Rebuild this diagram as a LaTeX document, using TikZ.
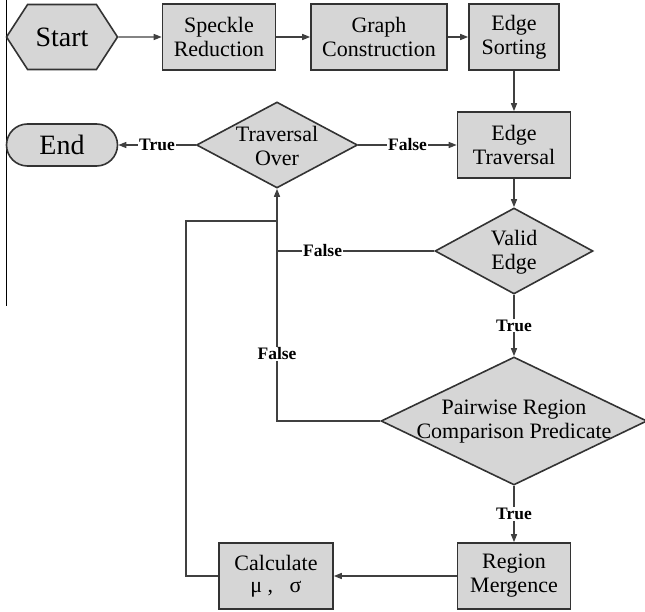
\documentclass[tikz,border=0pt]{standalone}
\usepackage{fontspec}
\setmainfont{Liberation Serif}
\usetikzlibrary{shapes.geometric,shapes.misc,shapes.symbols,arrows.meta}
\begin{document}
\begin{tikzpicture}[x=1pt,y=-1pt,
  box/.style={draw=black!80,line width=1.6pt,fill=black!16,rectangle,inner sep=0pt,
    minimum width=113pt,minimum height=66pt,align=center,font=\fontsize{22}{24}\selectfont},
  dia/.style={draw=black!80,line width=1.6pt,fill=black!16,diamond,inner sep=0pt},
  dtext/.style={align=center,font=\fontsize{22}{24}\selectfont,inner sep=0pt},
  arr/.style={draw=black!75,line width=1.3pt,-{Triangle[length=8pt,width=6pt]}},
  ln/.style={draw=black!75,line width=1.3pt},
  lab/.style={fill=white,inner sep=1pt,font=\bfseries\fontsize{17.5}{19}\selectfont}]
\useasboundingbox (0,0) rectangle (645,612);
\draw[line width=0.9pt,black] (6,0) -- (6,306);
% nodes
\node[draw=black!80,line width=1.6pt,fill=black!16,signal,signal to=west and east,signal pointer angle=114,
  minimum width=111pt,minimum height=65pt,inner sep=0pt,font=\fontsize{28}{30}\selectfont] (start) at (62,37) {Start};
\node[box] (speckle) at (219,37) {Speckle\\Reduction};
\node[box,minimum width=136pt] (graph) at (379,37) {Graph\\Construction};
\node[box,minimum width=90pt] (sort) at (514,37) {Edge\\Sorting};
\node[box] (trav) at (514,145) {Edge\\Traversal};
\node[dia,minimum width=161pt,minimum height=86pt] (tover) at (277,145) {};
\node[dtext] (toverT) at (277,146) {Traversal\\Over};
\node[draw=black!80,line width=1.6pt,fill=black!16,rounded rectangle,minimum width=111pt,minimum height=42pt,
  inner sep=0pt,font=\fontsize{28}{30}\selectfont] (end) at (62,145) {End};
\node[dia,minimum width=158pt,minimum height=86pt] (valid) at (514,251) {};
\node[dtext] (validT) at (514,252) {Valid\\Edge};
\node[dia,minimum width=266pt,minimum height=128pt] (pw) at (514,421) {};
\node[dtext] (pwT) at (514,422) {Pairwise Region\\Comparison Predicate};
\node[box,minimum height=66pt] (merge) at (514,576) {Region\\Mergence};
\node[box,minimum width=114pt,minimum height=66pt] (calc) at (276,576) {Calculate\\[-2pt]μ ,~~~σ};
% junctions
\coordinate (j1) at (277,251);
\coordinate (j2) at (277,221);
\coordinate (c2) at (186,221);
% connectors
\draw[arr] (start) -- (speckle);
\draw[arr] (speckle) -- (graph);
\draw[arr] (graph) -- (sort);
\draw[arr] (sort) -- (trav);
\draw[arr] (trav) -- (valid);
\draw[arr] (tover.east) -- node[lab]{False} (trav.west);
\draw[arr] (tover.west) -- node[lab]{True} (end.east);
\draw[ln] (valid.west) -- node[lab,pos=0.71]{False} (j1);
\draw[arr] (pw.west) -| node[lab,pos=0.645]{False} (tover.south);
\draw[ln] (calc.west) -| (c2) -- (j2);
\draw[arr] (valid.south) -- node[lab]{True} (pw.north);
\draw[arr] (pw.south) -- node[lab]{True} (merge.north);
\draw[arr] (merge) -- (calc);
\end{tikzpicture}
\end{document}
